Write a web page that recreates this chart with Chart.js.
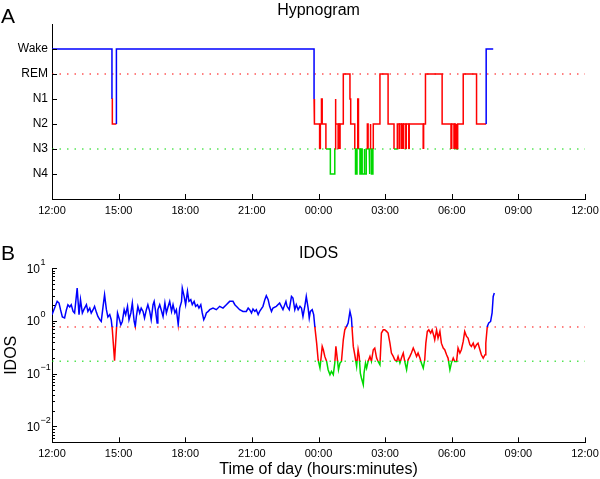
<!DOCTYPE html>
<html lang="en">
<head>
<meta charset="UTF-8">
<title>Hypnogram and IDOS</title>
<script src="https://cdn.jsdelivr.net/npm/chart.js"></script>
<style>
    html, body { margin: 0; padding: 0; background: #fff; }
    #wrap { position: relative; width: 600px; height: 479px; }
    canvas { position: absolute; left: 0; }
    #hypno { top: 0; }
    #idos { top: 230px; }
</style>
</head>
<body>
<div id="wrap">
    <canvas id="hypno" width="600" height="230"></canvas>
    <canvas id="idos" width="600" height="249"></canvas>
</div>

<script>
    // Axis labels
    var xTickLabels = ['12:00', '15:00', '18:00', '21:00', '00:00', '03:00', '06:00', '09:00', '12:00'];
    var stageLabels = ['N4', 'N3', 'N2', 'N1', 'REM', 'Wake']; // index = plotted level
    var idosTickValues = [0.01, 0.1, 1, 10];

    // Hypnogram: clock time where a stage starts, and the stage
    var hypnoTimes = ['12:00', '14:42', '14:43', '14:54', '23:48', '23:49', '00:03', '00:05', '00:08', '00:10',
        '00:20', '00:32', '00:44', '00:45', '00:47', '00:53', '00:55', '00:57', '00:58', '01:07',
        '01:25', '01:27', '01:38', '01:40', '01:44', '01:46', '01:48', '01:52', '01:56', '01:58',
        '02:03', '02:05', '02:09', '02:12', '02:14', '02:17', '02:19', '02:20', '02:21', '02:23',
        '02:27', '02:28', '02:46', '03:08', '03:24', '03:33', '03:38', '03:39', '03:44', '03:45',
        '03:49', '03:50', '03:56', '03:57', '04:04', '04:05', '04:43', '04:44', '04:49', '05:34',
        '05:58', '06:00', '06:06', '06:08', '06:10', '06:12', '06:14', '06:16', '06:31', '07:07',
        '07:33', '07:52'];
    var hypnoStages = ['Wake', 'N1', 'N2', 'Wake', 'N1', 'N2', 'N3', 'N2', 'N1', 'N2',
        'N3', 'N4', 'N3', 'N1', 'N2', 'N3', 'N2', 'N3', 'N2', 'REM',
        'N1', 'N2', 'N3', 'N4', 'N3', 'N1', 'N3', 'N4', 'N3', 'N4',
        'N3', 'N4', 'N3', 'N2', 'N3', 'N4', 'N3', 'N2', 'N3', 'N4',
        'N3', 'N2', 'REM', 'N2', 'N3', 'N2', 'N3', 'N2', 'N3', 'N2',
        'N3', 'N2', 'N3', 'N2', 'N3', 'N2', 'N3', 'N2', 'REM', 'N2',
        'N3', 'N2', 'N3', 'N2', 'N3', 'N2', 'N3', 'N2', 'REM', 'N2',
        'Wake', 'Wake'];
    var hypnoGuides = ['REM', 'N3'];

    // IDOS: minutes after 12:00 and value
    var idosMinutes = [0, 7, 14, 19, 23, 28, 34, 39, 43, 48,
        52, 57, 61, 68, 73, 77, 82, 86, 93, 97,
        102, 106, 111, 115, 120, 124, 129, 133, 138, 142,
        147, 151, 156, 160, 163, 169, 174, 177, 181, 186,
        190, 195, 199, 204, 208, 213, 217, 222, 225, 228,
        232, 237, 241, 246, 250, 255, 259, 264, 268, 273,
        276, 280, 284, 286, 291, 295, 300, 305, 309, 314,
        318, 323, 327, 332, 336, 341, 345, 350, 352, 357,
        361, 366, 370, 375, 379, 384, 388, 393, 397, 402,
        406, 410, 414, 417, 422, 426, 435, 444, 453, 462,
        471, 480, 489, 494, 498, 507, 516, 525, 530, 534,
        539, 543, 548, 552, 557, 561, 570, 575, 579, 584,
        588, 593, 597, 606, 615, 624, 632, 635, 641, 647,
        651, 656, 660, 665,
        670, 674, 678, 683, 687, 692, 695, 698, 703, 707,
        710, 715, 719, 724, 726, 730, 733, 737, 742, 746,
        751, 755, 760, 764, 767, 770, 774, 778, 782, 787,
        791, 796, 800, 805, 809, 811, 814, 818, 823, 827,
        830, 833, 836, 841, 843, 847, 850, 854, 859, 863,
        868, 872, 877, 881, 886, 890, 895, 899, 904, 908,
        913, 917, 922, 926, 931, 935, 940, 944, 949, 953,
        958, 962, 967, 971, 976, 980, 985, 989, 994, 998,
        1003, 1007, 1010, 1014, 1018, 1023, 1027, 1032, 1034, 1039,
        1043, 1048, 1052, 1057, 1061, 1066, 1070, 1075, 1079, 1084,
        1088, 1093, 1097, 1102, 1106, 1111, 1115, 1120, 1124, 1129,
        1133, 1138, 1142, 1147, 1151, 1156, 1160, 1165, 1170, 1172,
        1176, 1180, 1185, 1189, 1192, 1195];
    var idosValues = [1.32, 1.76, 2.36, 2.19, 1.64, 1.19, 1.14, 1.64, 2.04, 1.85,
        2.04, 1.52, 1.42, 4.2, 1.32, 2.54, 1.42, 1.64, 2.04, 1.52,
        1.76, 1.42, 1.64, 1.90, 1.46, 1.22, 1.06, 0.98, 1.90, 3.16,
        1.64, 1.19, 1.32, 1.06, 0.68, 0.176, 0.68, 1.42, 1.14, 0.85,
        0.98, 1.64, 1.32, 1.90, 1.06, 1.42, 2.19, 0.98, 0.79, 1.22,
        1.90, 1.42, 1.76, 1.52, 1.14, 1.64, 2.04, 1.52, 1.06, 2.04,
        2.36, 1.52, 0.915, 1.64, 2.04, 1.64, 1.22, 2.19, 1.42, 1.90,
        2.36, 1.52, 2.04, 1.42, 1.64, 0.85, 1.76, 2.36, 4.2, 2.93,
        2.04, 3.65, 2.36, 2.54, 2.04, 2.36, 1.90, 2.04, 1.76, 2.04,
        1.42, 1.06, 1.22, 1.42, 1.52, 1.64, 1.76, 1.64, 1.90, 1.76,
        2.04, 2.36, 2.36, 2.04, 1.90, 1.64, 1.52, 1.52, 1.76, 1.64,
        1.42, 1.69, 1.52, 1.64, 1.32, 1.52, 1.90, 2.54, 3.02, 2.54,
        1.90, 1.52, 1.76, 1.90, 2.19, 1.64, 2.36, 1.90, 1.64, 2.93,
        2.73, 1.64, 2.04, 1.64,
        1.90, 1.76, 1.22, 1.90, 2.93, 1.76, 1.14, 1.52, 1.64, 1.32,
        0.79, 0.38, 0.184, 0.128, 0.171, 0.33, 0.285, 0.213, 0.171, 0.119,
        0.096, 0.111, 0.096, 0.159, 0.33, 0.213, 0.119, 0.159, 0.171, 0.44,
        0.68, 0.79, 0.915, 1.52, 1.14, 0.68, 0.33, 0.229, 0.138, 0.285,
        0.213, 0.103, 0.083, 0.062, 0.103, 0.159, 0.128, 0.171, 0.213, 0.171,
        0.285, 0.307, 0.198, 0.171, 0.148, 0.59, 0.68, 0.68, 0.635, 0.59,
        0.38, 0.247, 0.213, 0.184, 0.171, 0.213, 0.159, 0.198, 0.247, 0.171,
        0.119, 0.184, 0.213, 0.247, 0.307, 0.265, 0.213, 0.247, 0.198, 0.159,
        0.128, 0.184, 0.38, 0.635, 0.68, 0.59, 0.68, 0.51, 0.44, 0.68,
        0.475, 0.635, 0.38, 0.307, 0.285, 0.229, 0.198, 0.119, 0.159, 0.198,
        0.171, 0.171, 0.307, 0.247, 0.285, 0.41, 0.635, 0.51, 0.475, 0.355,
        0.33, 0.38, 0.307, 0.355, 0.38, 0.285, 0.229, 0.198, 0.229, 0.38,
        0.79, 0.915, 0.98, 1.42, 2.93, 3.4];
    var idosThresholds = [0.77, 0.173]; // wake / deep sleep limits

    var BLUE = '#0000ff', RED = '#ff0000', GREEN = '#00d800';
    var FONT = "'Liberation Sans', Arial, Helvetica, sans-serif";
    Chart.defaults.font.family = FONT;
    Chart.defaults.color = '#000';
    Chart.defaults.animation = false;

    function toMinutes(t) {
        var p = t.split(':');
        var m = (+p[0]) * 60 + (+p[1]) - 720;
        return m < 0 ? m + 1440 : m;
    }

    function stageColor(level) {
        if (level >= 5) return BLUE;
        if (level >= 2) return RED;
        return GREEN;
    }

    // step points: horizontal runs + vertical jumps
    var hypnoPoints = [];
    hypnoTimes.forEach(function (t, i) {
        var x = toMinutes(t);
        var y = stageLabels.indexOf(hypnoStages[i]);
        if (i > 0) hypnoPoints.push({ x: x, y: hypnoPoints[hypnoPoints.length - 1].y });
        hypnoPoints.push({ x: x, y: y });
    });

    var idosPoints = idosMinutes.map(function (m, i) { return { x: m, y: idosValues[i] }; });

    function guideLine(level, color) {
        return {
            data: [{ x: 0, y: level }, { x: 1440, y: level }],
            borderColor: color,
            borderWidth: 1,
            borderDash: [1.5, 6],
            pointRadius: 0,
            order: 2
        };
    }

    // ticks drawn inside the axes, like the original figure
    var inwardTicks = {
        id: 'inwardTicks',
        afterDraw: function (chart) {
            var ctx = chart.ctx, area = chart.chartArea;
            var xs = chart.scales.x, ys = chart.scales.y;
            ctx.save();
            ctx.strokeStyle = '#000';
            ctx.lineWidth = 1;
            ctx.beginPath();
            xs.ticks.forEach(function (t) {
                var px = Math.round(xs.getPixelForValue(t.value)) + 0.5;
                ctx.moveTo(px, area.bottom);
                ctx.lineTo(px, area.bottom - 5);
            });
            ys.ticks.forEach(function (t) {
                var py = Math.round(ys.getPixelForValue(t.value)) + 0.5;
                var len = (t.minor ? 3 : 5);
                ctx.moveTo(area.left, py);
                ctx.lineTo(area.left + len, py);
            });
            ctx.stroke();
            ctx.restore();
        }
    };

    // panel letter and title centred over the plot area
    var panelHeader = {
        id: 'panelHeader',
        afterDraw: function (chart, args, opts) {
            var ctx = chart.ctx, area = chart.chartArea;
            ctx.save();
            ctx.fillStyle = '#000';
            ctx.textBaseline = 'alphabetic';
            ctx.font = '21px ' + FONT;
            ctx.textAlign = 'left';
            ctx.fillText(opts.letter, 1, opts.letterY);
            ctx.font = '16px ' + FONT;
            ctx.textAlign = 'center';
            ctx.fillText(opts.title, (area.left + area.right) / 2, opts.titleY);
            ctx.restore();
        }
    };

    // 10^n labels for the log axis
    var powerLabels = {
        id: 'powerLabels',
        afterDraw: function (chart) {
            var ctx = chart.ctx, ys = chart.scales.y;
            ctx.save();
            ctx.fillStyle = '#000';
            idosTickValues.forEach(function (v) {
                var py = ys.getPixelForValue(v);
                var e = Math.round(Math.log10(v));
                ctx.font = '12px ' + FONT;
                ctx.textAlign = 'right';
                ctx.textBaseline = 'middle';
                ctx.fillText('10', 40, py + 1);
                ctx.font = '9px ' + FONT;
                ctx.textAlign = 'left';
                ctx.fillText((e < 0 ? '\u2212' : '') + Math.abs(e), 40.5, py - 6);
            });
            ctx.restore();
        }
    };

    var xAxis = function (height, withTitle) {
        return {
            type: 'linear',
            min: 0,
            max: 1440,
            grid: { display: false, drawTicks: false },
            border: { display: true, color: '#000', width: 1 },
            ticks: {
                stepSize: 180,
                autoSkip: false,
                maxRotation: 0,
                padding: 5,
                font: { size: 11 },
                callback: function (v) { return xTickLabels[Math.round(v / 180)]; }
            },
            title: {
                display: withTitle,
                text: 'Time of day (hours:minutes)',
                font: { size: 16 },
                padding: { top: 0, bottom: 0 }
            },
            afterFit: function (s) {
                s.height = height;
                s.paddingLeft = 0;
                s.paddingRight = 0;
            }
        };
    };

    new Chart(document.getElementById('hypno'), {
        type: 'line',
        data: {
            datasets: [{
                data: hypnoPoints,
                borderWidth: 1.5,
                pointRadius: 0,
                order: 1,
                segment: {
                    borderColor: function (ctx) {
                        var a = ctx.p0.parsed, b = ctx.p1.parsed;
                        return stageColor(a.x === b.x ? Math.max(a.y, b.y) : a.y);
                    }
                }
            },
            guideLine(stageLabels.indexOf(hypnoGuides[0]), RED),
            guideLine(stageLabels.indexOf(hypnoGuides[1]), GREEN)]
        },
        options: {
            responsive: false,
            layout: { padding: { left: 0, right: 15, top: 24, bottom: 0 } },
            plugins: {
                legend: { display: false },
                tooltip: { enabled: false },
                panelHeader: { letter: 'A', letterY: 23, title: 'Hypnogram', titleY: 14.5 }
            },
            scales: {
                x: xAxis(31, false),
                y: {
                    type: 'linear',
                    min: -1,
                    max: 6,
                    grid: { display: false, drawTicks: false },
                    border: { display: true, color: '#000', width: 1 },
                    afterBuildTicks: function (s) {
                        s.ticks = stageLabels.map(function (l, i) { return { value: i }; });
                    },
                    ticks: {
                        padding: 4,
                        font: { size: 12 },
                        callback: function (v) { return stageLabels[v]; }
                    },
                    afterFit: function (s) { s.width = 52; }
                }
            }
        },
        plugins: [inwardTicks, panelHeader]
    });

    new Chart(document.getElementById('idos'), {
        type: 'line',
        data: {
            datasets: [{
                data: idosPoints,
                borderWidth: 1.5,
                pointRadius: 0,
                order: 1,
                // colour by level: blue above upper limit, red between, green below
                borderColor: function (ctx) {
                    var chart = ctx.chart, area = chart.chartArea;
                    if (!area) return BLUE;
                    var ys = chart.scales.y;
                    var h = area.bottom - area.top;
                    var f1 = (ys.getPixelForValue(idosThresholds[0]) - area.top) / h;
                    var f2 = (ys.getPixelForValue(idosThresholds[1]) - area.top) / h;
                    var g = chart.ctx.createLinearGradient(0, area.top, 0, area.bottom);
                    g.addColorStop(0, BLUE);
                    g.addColorStop(f1, BLUE);
                    g.addColorStop(f1, RED);
                    g.addColorStop(f2, RED);
                    g.addColorStop(f2, GREEN);
                    g.addColorStop(1, GREEN);
                    return g;
                }
            },
            guideLine(idosThresholds[0], RED),
            guideLine(idosThresholds[1], GREEN)]
        },
        options: {
            responsive: false,
            layout: { padding: { left: 0, right: 15, top: 38.3, bottom: 0 } },
            plugins: {
                legend: { display: false },
                tooltip: { enabled: false },
                panelHeader: { letter: 'B', letterY: 30, title: 'IDOS', titleY: 28.3 }
            },
            scales: {
                x: xAxis(36.7, true),
                y: {
                    type: 'logarithmic',
                    min: 0.005,
                    max: 10,
                    grid: { display: false, drawTicks: false },
                    border: { display: true, color: '#000', width: 1 },
                    afterBuildTicks: function (s) {
                        var t = [];
                        for (var e = -3; e <= 1; e++) {
                            for (var m = 1; m <= 9; m++) {
                                var v = m * Math.pow(10, e);
                                if (v >= 0.005 && v <= 10.0001) t.push({ value: v, minor: m !== 1 });
                            }
                        }
                        s.ticks = t;
                    },
                    ticks: { display: false },
                    title: {
                        display: true,
                        text: 'IDOS',
                        font: { size: 16 },
                        padding: { top: 2, bottom: 0 }
                    },
                    afterFit: function (s) { s.width = 52; }
                }
            }
        },
        plugins: [inwardTicks, panelHeader, powerLabels]
    });
</script>
</body>
</html>
